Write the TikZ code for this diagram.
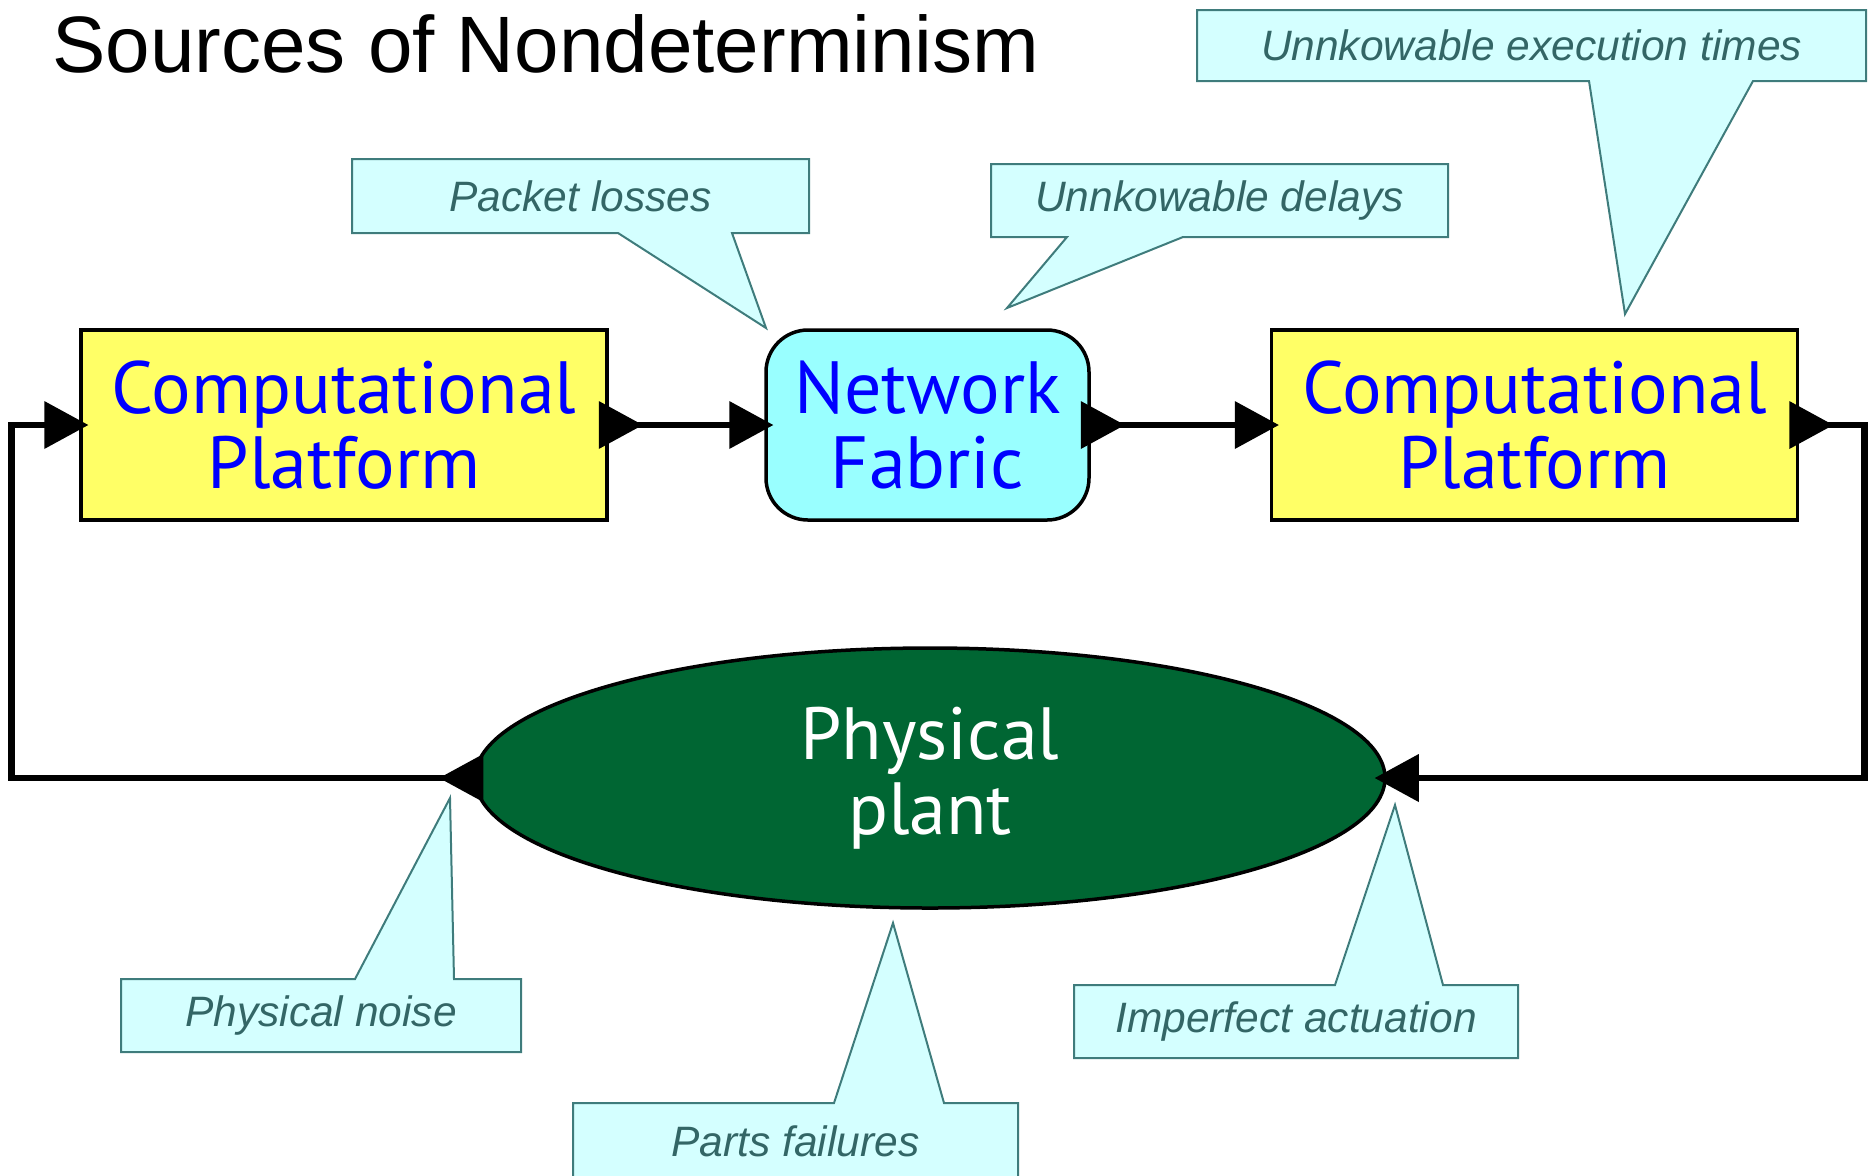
\documentclass[tikz,border=0pt]{standalone}
\usepackage{fontspec}
\setmainfont{Liberation Sans}
\newfontfamily\blockfont{PT Sans}
\usetikzlibrary{calc,shapes.geometric}

\definecolor{platyellow}{HTML}{FFFF66}
\definecolor{netcyan}{HTML}{99FFFF}
\definecolor{plantgreen}{HTML}{006633}
\definecolor{notefill}{HTML}{D4FFFF}
\definecolor{noteline}{HTML}{3F7C7C}
\definecolor{notetext}{HTML}{336666}

\tikzset{
  block/.style={draw, line width=1.75pt, align=center, inner sep=0pt,
    font=\blockfont\fontsize{37}{37.5}\selectfont},
  platform/.style={block, fill=platyellow, text=blue,
    minimum width=263pt, minimum height=95pt},
  fabric/.style={block, fill=netcyan, text=blue, rounded corners=21pt,
    minimum width=161.5pt, minimum height=95pt},
  plant/.style={block, ellipse, fill=plantgreen, text=white,
    minimum width=455pt, minimum height=130pt},
  wire/.style={line width=3.4pt},
  notebox/.style={fill=notefill, draw=noteline, line width=1pt},
  note/.style={text=notetext, font=\itshape\fontsize{21.25}{25}\selectfont},
}

% port triangles, pointing right or left
\newcommand{\portR}[1]{\fill (#1) ++(-22,-24) -- ++(44,24) -- ++(-44,24) -- cycle;}
\newcommand{\portL}[1]{\fill (#1) ++(22,-24) -- ++(-44,24) -- ++(44,24) -- cycle;}

\begin{document}
\begin{tikzpicture}[x=0.5pt, y=-0.5pt]
\useasboundingbox (0,0) rectangle (1873,1175);

\node[anchor=base west, inner sep=0pt, font=\fontsize{40}{48}\selectfont] (title) at (52,72) {Sources of Nondeterminism};

% the control loop
\node[platform] (cp1) at (344,425) {Computational\\Platform};
\node[fabric] (net) at (927.5,425) {Network\\Fabric};
\node[platform] (cp2) at (1534.5,425) {Computational\\Platform};
\node[plant] (plant) at (930,778) {Physical\\plant};

\coordinate (cp1in) at ($(cp1.west)+(-13,0)$);
\coordinate (cp1out) at ($(cp1.east)+(12,0)$);
\coordinate (netin) at ($(net.west)+(-13,0)$);
\coordinate (netout) at ($(net.east)+(12,0)$);
\coordinate (cp2in) at ($(cp2.west)+(-13,0)$);
\coordinate (cp2out) at ($(cp2.east)+(12,0)$);
\coordinate (plantout) at ($(plant.west)+(-12,0)$);
\coordinate (plantin) at ($(plant.east)+(10,0)$);

\draw[wire] (cp1out) -- (netin);
\draw[wire] (netout) -- (cp2in);
\draw[wire] (cp2out) -- ++(53,0) |- (plantin);
\draw[wire] (plantout) -- ++(-450,0) |- (cp1in);

\foreach \p in {cp1in,cp1out,netin,netout,cp2in,cp2out}{\portR{\p}}
\foreach \p in {plantout,plantin}{\portL{\p}}

% callouts
\filldraw[notebox] (352,159) -- (809,159) -- (809,233) -- (732,233) -- (766,328) -- (618,233) -- (352,233) -- cycle;
\node[note] (loss) at (580.5,196) {Packet losses};

\filldraw[notebox] (991,164) -- (1448,164) -- (1448,237) -- (1183,237) -- (1007,308) -- (1067,237) -- (991,237) -- cycle;
\node[note] (delay) at (1219.5,200.5) {Unnkowable delays};

\filldraw[notebox] (1197,10) -- (1866,10) -- (1866,81) -- (1753,81) -- (1625,314) -- (1589,81) -- (1197,81) -- cycle;
\node[note] (exec) at (1531.5,45.5) {Unnkowable execution times};

\filldraw[notebox] (121,979) -- (355,979) -- (450,798) -- (454,979) -- (521,979) -- (521,1052) -- (121,1052) -- cycle;
\node[note] (noise) at (321,1015.5) {Physical noise};

\filldraw[notebox] (573,1103) -- (834,1103) -- (893,923) -- (944,1103) -- (1018,1103) -- (1018,1180) -- (573,1180) -- cycle;
\node[note] (fail) at (795.5,1141) {Parts failures};

\filldraw[notebox] (1074,985) -- (1335,985) -- (1395,805) -- (1443,985) -- (1518,985) -- (1518,1058) -- (1074,1058) -- cycle;
\node[note] (act) at (1296,1021.5) {Imperfect actuation};

\end{tikzpicture}
\end{document}
